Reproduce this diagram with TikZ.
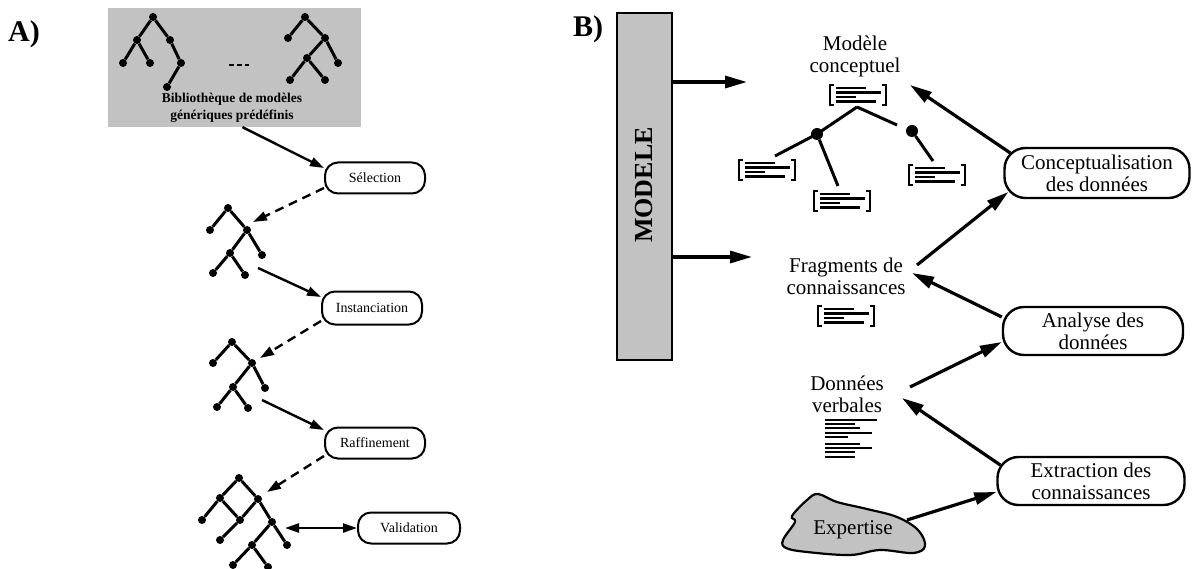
\documentclass[tikz,border=0pt]{standalone}
\usepackage{fontspec}
\setmainfont{Liberation Serif}
\usetikzlibrary{arrows.meta}
\begin{document}
\begin{tikzpicture}[x=1pt,y=-1pt,
  procA/.style={draw, line width=2pt, rounded corners=13pt, minimum width=100pt, minimum height=31pt, inner sep=2pt, font=\fontsize{14}{16}\selectfont},
  procB/.style={draw, line width=2.4pt, rounded corners=21pt, minimum width=185pt, minimum height=50pt, inner sep=2pt, align=center, font=\fontsize{21}{22}\selectfont},
  lblB/.style={align=center, inner sep=0pt, font=\fontsize{21}{22}\selectfont},
  panel/.style={font=\bfseries\fontsize{30}{32}\selectfont, anchor=base west, inner sep=0pt},
  arrA/.style={line width=2.4pt, -{Triangle[length=14pt,width=9pt]}},
  dashA/.style={arrA, dash pattern=on 9pt off 6pt},
  bothA/.style={line width=2.4pt, {Triangle[length=14pt,width=9pt]}-{Triangle[length=14pt,width=9pt]}},
  arrB/.style={line width=3.2pt, -{Triangle[length=22pt,width=12pt]}},
  tdot/.style={circle, fill, inner sep=0pt, minimum size=8pt},
  bdot/.style={circle, fill, inner sep=0pt, minimum size=12pt},
  tedge/.style={line width=3pt},
  bedge/.style={line width=3pt},
  greyfill/.style={fill=black!24},
  docicon/.pic={
    \draw[line width=1.8pt] (-24,-10) -- (-28,-10) -- (-28,10) -- (-24,10);
    \draw[line width=1.8pt] (24,-10) -- (28,-10) -- (28,10) -- (24,10);
    \draw[line width=2.6pt] (-22,-7) -- (8,-7) (-22,-2.5) -- (23,-2.5) (-22,2) -- (-2,2) (-22,6.5) -- (18,6.5);
  }
]
\useasboundingbox (0,0) rectangle (1193,569);

% ---------------- Panel A ----------------
\node[panel] (labA) at (8,42) {A)};

\node[greyfill, minimum width=253pt, minimum height=119pt, inner sep=0pt] (lib) at (234.5,67.5) {};
\node[font=\bfseries\fontsize{13.5}{17}\selectfont, align=center, inner sep=0pt] (libtxt) at (232,108) {Bibliothèque de modèles\\génériques prédéfinis};

\foreach \n/\p in {l1r/{(153,17)}, l1a/{(137,40)}, l1b/{(123,63)}, l1c/{(150,63)}, l1d/{(170,40)}, l1e/{(181,63)}, l1f/{(167,87)},
                   l2r/{(305,17)}, l2a/{(288,38)}, l2b/{(325,38)}, l2c/{(307,58)}, l2d/{(338,63)}, l2e/{(290,80)}, l2f/{(325,80)}}
  \node[tdot] (\n) at \p {};
\draw[tedge] (l1r) -- (l1a) (l1a) -- (l1b) (l1a) -- (l1c) (l1r) -- (l1d) (l1d) -- (l1e) (l1e) -- (l1f);
\draw[tedge] (l2r) -- (l2a) (l2r) -- (l2b) (l2b) -- (l2c) (l2b) -- (l2d) (l2c) -- (l2e) (l2c) -- (l2f);
\coordinate (dsA) at (229,65); \coordinate (dsB) at (249,65);
\draw[line width=2.8pt, dash pattern=on 5pt off 3pt] (dsA) -- (dsB);

% process nodes A
\node[procA] (sel) at (375,178) {Sélection};
\node[procA, minimum height=33pt] (inst) at (372,308) {Instanciation};
\node[procA] (raf) at (375,443) {Raffinement};
\node[procA, minimum width=102pt] (val) at (409,528) {Validation};

% trees
\foreach \n/\p in {t2r/{(228,208)}, t2a/{(210,230)}, t2b/{(247,230)}, t2c/{(262,255)}, t2d/{(230,253)}, t2e/{(213,273)}, t2f/{(245,275)},
                   t3r/{(232,342)}, t3a/{(213,363)}, t3b/{(252,363)}, t3c/{(265,388)}, t3d/{(233,387)}, t3e/{(217,407)}, t3f/{(248,408)},
                   t4r/{(239,478)}, t4a/{(220,498)}, t4b/{(258,499)}, t4c/{(202,520)}, t4d/{(240,520)}, t4e/{(272,522)}, t4f/{(220,540)},
                   t4g/{(287,545)}, t4h/{(252,545)}, t4i/{(233,565)}, t4j/{(268,567)}}
  \node[tdot] (\n) at \p {};
\draw[tedge] (t2r) -- (t2a) (t2r) -- (t2b) (t2b) -- (t2c) (t2b) -- (t2d) (t2d) -- (t2e) (t2d) -- (t2f);
\draw[tedge] (t3r) -- (t3a) (t3r) -- (t3b) (t3b) -- (t3c) (t3b) -- (t3d) (t3d) -- (t3e) (t3d) -- (t3f);
\draw[tedge] (t4r) -- (t4a) (t4r) -- (t4b) (t4a) -- (t4c) (t4a) -- (t4d) (t4b) -- (t4d) (t4b) -- (t4e)
             (t4d) -- (t4f) (t4e) -- (t4g) (t4e) -- (t4h) (t4h) -- (t4i) (t4h) -- (t4j);

\coordinate (t2in) at (253,222);
\coordinate (t2out) at (258,268);
\coordinate (t3in) at (260,358);
\coordinate (t3out) at (262,400);
\coordinate (t4in) at (267,492);
\coordinate (t4io) at (285,528);

\draw[arrA] ([xshift=8pt]lib.south) -- ([yshift=10pt]sel.west);
\draw[dashA] ([yshift=-10pt]sel.west) -- (t2in);
\draw[arrA] (t2out) -- ([yshift=11pt]inst.west);
\draw[dashA] ([yshift=-13pt]inst.west) -- (t3in);
\draw[arrA] (t3out) -- ([yshift=13pt]raf.west);
\draw[dashA] ([yshift=-13pt]raf.west) -- (t4in);
\draw[bothA] (t4io) -- (val.west);

% ---------------- Panel B ----------------
\node[panel] (labB) at (573,37) {B)};

\node[draw, greyfill, line width=2.2pt, minimum width=55pt, minimum height=347pt, inner sep=0pt] (model) at (644.5,186.5) {};
\node[rotate=90, font=\bfseries\fontsize{26}{28}\selectfont, inner sep=0pt] (modtxt) at (644,185) {MODELE};

\coordinate (mcin) at (747,82);
\coordinate (frin) at (752,257);
\draw[arrB] ([yshift=104.5pt]model.east) -- (mcin);
\draw[arrB] ([yshift=-70.5pt]model.east) -- (frin);

\node[lblB] (mcl) at (855,56) {Modèle\\conceptuel};
\node[lblB] (frl) at (846,276) {Fragments de\\connaissances};
\node[lblB] (dvl) at (847,394) {Données\\verbales};

\pic at (858,95) {docicon};
\pic at (767,170) {docicon};
\pic at (842,201) {docicon};
\pic at (937,175) {docicon};
\pic at (846,316) {docicon};

\node[bdot] (bd1) at (817,134) {};
\node[bdot] (bd2) at (912,131) {};
\coordinate (bt0) at (857,107);
\coordinate (bt1) at (897,125);
\coordinate (btL) at (775,156);
\coordinate (btM) at (838,186);
\coordinate (btR) at (933,161);
\draw[bedge] (bt0) -- (bd1.center) (bt0) -- (bt1) (bd1.center) -- (btL);
\draw[bedge] (bd1) -- (btM);
\draw[bedge] (bd2) -- (btR);

\foreach \y/\w in {420/52, 424/30, 428/35, 433/47, 437/23, 444/35, 448/47, 452/30, 457/30}
  \draw[line width=2.4pt] (825,\y) -- ++(\w,0);

\node[procB] (conc) at (1097,173) {Conceptualisation\\des données};
\node[procB, minimum width=180pt, minimum height=48pt] (ana) at (1093,331) {Analyse des\\données};
\node[procB, minimum width=187pt, minimum height=48pt] (extr) at (1091,481) {Extraction des\\connaissances};

\draw[greyfill, line width=2.2pt] plot[smooth cycle, tension=0.6] coordinates {
  (783,540) (795,522) (792,516) (807,500) (818,494) (837,502) (867,509) (897,517) (918,530) (925,546) (913,553) (880,550) (850,555) (807,552) (786,548)};
\node[font=\fontsize{21}{22}\selectfont, inner sep=0pt] (exp) at (853,530) {Expertise};

\coordinate (mcout) at (910,85);
\coordinate (frout) at (917,265);
\coordinate (frinr) at (912,273);
\coordinate (dvout) at (910,387);
\coordinate (dvinr) at (902,398);
\coordinate (expout) at (907,520);

\draw[arrB] ([shift={(7pt,20pt)}]conc.west) -- (mcout);
\draw[arrB] (frout) -- ([shift={(5pt,-19pt)}]conc.west);
\draw[arrB] ([yshift=14pt]ana.west) -- (frinr);
\draw[arrB] (dvout) -- ([yshift=-11pt]ana.west);
\draw[arrB] ([shift={(4pt,16pt)}]extr.west) -- (dvinr);
\draw[arrB] (expout) -- ([yshift=-11pt]extr.west);
\end{tikzpicture}
\end{document}
